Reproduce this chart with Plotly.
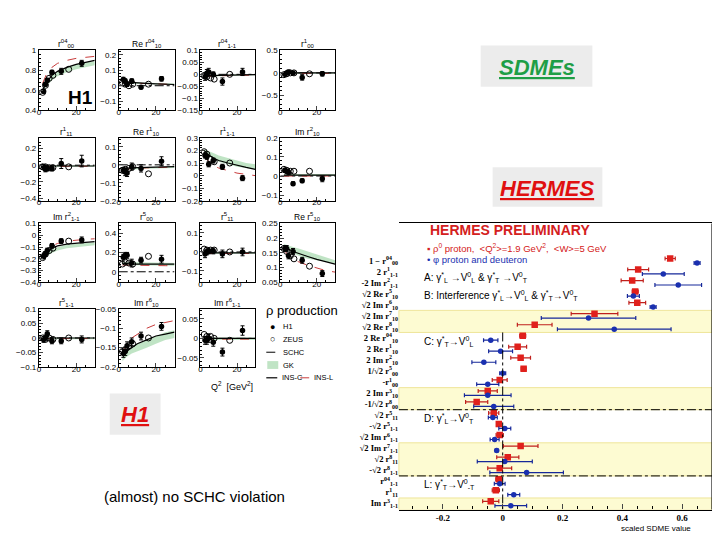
import plotly.graph_objects as go

W, H = 720, 540

# ---------------- H1 / ZEUS data (left block) ----------------
Q2_H1 = [2.5, 3.5, 4.5, 7.0, 12.0, 23.0]
Q2_ZEUS = [2.0, 3.5, 5.5, 7.5, 16.0]
Q2_CURVE = [2, 4, 7, 10, 15, 20, 25, 30]

# r04_00
P1_H1 = [0.59, 0.66, 0.70, 0.78, 0.79, 0.87]
P1_H1E = [0.02, 0.02, 0.02, 0.02, 0.03, 0.03]
P1_ZEUS = [0.58, 0.65, 0.72, 0.75, 0.81]
P1_INSC = [0.60, 0.68, 0.75, 0.79, 0.83, 0.86, 0.88, 0.90]
P1_INSL = [0.67, 0.76, 0.83, 0.87, 0.90, 0.92, 0.93, 0.94]
P1_GKLO = [0.58, 0.64, 0.70, 0.74, 0.78, 0.81, 0.83, 0.85]
P1_GKHI = [0.61, 0.68, 0.75, 0.79, 0.83, 0.86, 0.88, 0.89]
# Re r04_10
P2_H1 = [0.04, 0.03, 0.01, 0.03, -0.01, 0.045]
P2_H1E = [0.015, 0.015, 0.015, 0.015, 0.01, 0.015]
P2_ZEUS = [0.02, 0.01, 0.0, 0.01, 0.01]
P2_INSC = [0.025, 0.023, 0.02, 0.018, 0.015, 0.012, 0.01, 0.008]
P2_INSL = [0.02, 0.02, 0.018, 0.016, 0.014, 0.012, 0.01, 0.008]
P2_GKLO = [0.015, 0.014, 0.012, 0.01, 0.008, 0.006, 0.005, 0.004]
P2_GKHI = [0.025, 0.024, 0.022, 0.02, 0.018, 0.016, 0.015, 0.014]
# r04_1-1
P3_H1 = [-0.01, 0.005, 0.01, 0.0, -0.03, 0.01]
P3_H1E = [0.015, 0.015, 0.015, 0.01, 0.015, 0.015]
P3_ZEUS = [-0.005, -0.01, -0.015, -0.02, 0.0]
P3_INSC = [-0.008, -0.006, -0.005, -0.004, -0.003, -0.002, -0.002, -0.001]
P3_INSL = [-0.01, -0.008, -0.007, -0.006, -0.005, -0.004, -0.003, -0.003]
P3_GKLO = [-0.012, -0.01, -0.009, -0.008, -0.007, -0.006, -0.005, -0.004]
P3_GKHI = [-0.004, -0.003, -0.002, -0.002, -0.001, -0.001, 0.0, 0.0]
# r1_00
P4_H1 = [-0.03, 0.0, 0.02, 0.0, -0.1, -0.02]
P4_H1E = [0.03, 0.03, 0.04, 0.03, 0.06, 0.05]
P4_ZEUS = [-0.04, -0.02, 0.0, 0.0, -0.02]
P4_INSC = [0.0, 0.0, 0.0, 0.0, 0.0, 0.0, 0.0, 0.0]
P4_INSL = [-0.01, -0.01, -0.01, -0.01, -0.01, -0.01, -0.01, -0.01]
P4_GKLO = [-0.02, -0.02, -0.02, -0.02, -0.02, -0.02, -0.02, -0.02]
P4_GKHI = [0.01, 0.01, 0.01, 0.01, 0.01, 0.01, 0.01, 0.01]
# r1_11
P5_H1 = [-0.02, -0.05, -0.04, -0.04, 0.02, 0.05]
P5_H1E = [0.03, 0.03, 0.03, 0.03, 0.06, 0.07]
P5_ZEUS = [-0.02, -0.02, -0.03, -0.03, -0.02]
P5_INSC = [-0.01, -0.01, -0.01, -0.01, -0.01, -0.01, -0.01, -0.01]
P5_INSL = [-0.015, -0.015, -0.015, -0.014, -0.013, -0.012, -0.012, -0.012]
P5_GKLO = [-0.02, -0.02, -0.02, -0.02, -0.02, -0.02, -0.02, -0.02]
P5_GKHI = [0.0, 0.0, 0.0, 0.0, 0.0, 0.0, 0.0, 0.0]
# Re r1_10
P6_H1 = [-0.03, -0.04, -0.045, -0.01, -0.02, 0.02]
P6_H1E = [0.015, 0.02, 0.02, 0.02, 0.02, 0.025]
P6_ZEUS = [-0.03, -0.025, -0.02, -0.01, -0.05]
P6_INSC = [-0.02, -0.02, -0.018, -0.016, -0.014, -0.012, -0.011, -0.01]
P6_INSL = [-0.025, -0.023, -0.021, -0.019, -0.017, -0.015, -0.013, -0.012]
P6_GKLO = [-0.03, -0.028, -0.026, -0.024, -0.022, -0.02, -0.019, -0.018]
P6_GKHI = [-0.02, -0.018, -0.016, -0.014, -0.012, -0.01, -0.009, -0.008]
# r1_1-1
P7_H1 = [0.16, 0.15, 0.09, 0.12, 0.07, -0.02]
P7_H1E = [0.02, 0.02, 0.02, 0.02, 0.02, 0.02]
P7_ZEUS = [0.19, 0.17, 0.13, 0.11, 0.10]
P7_INSC = [0.20, 0.17, 0.14, 0.12, 0.10, 0.08, 0.065, 0.05]
P7_INSL = [0.16, 0.12, 0.08, 0.06, 0.04, 0.02, 0.01, 0.0]
P7_GKLO = [0.18, 0.16, 0.13, 0.11, 0.09, 0.07, 0.06, 0.05]
P7_GKHI = [0.21, 0.20, 0.18, 0.16, 0.14, 0.12, 0.10, 0.09]
# Im r2_10
P8_H1 = [0.03, 0.025, 0.02, -0.04, -0.025, -0.015]
P8_H1E = [0.01, 0.01, 0.01, 0.01, 0.01, 0.015]
P8_ZEUS = [0.035, 0.03, 0.025, 0.025, 0.025]
P8_INSC = [0.005, 0.005, 0.005, 0.005, 0.005, 0.005, 0.005, 0.005]
P8_INSL = [0.0, 0.0, 0.0, 0.0, 0.0, 0.0, 0.0, 0.0]
P8_GKLO = [0.0, 0.0, 0.0, 0.0, 0.0, 0.0, 0.0, 0.0]
P8_GKHI = [0.01, 0.01, 0.01, 0.01, 0.01, 0.01, 0.01, 0.01]
# Im r2_1-1
P9_H1 = [-0.18, -0.16, -0.13, -0.09, -0.05, -0.04]
P9_H1E = [0.02, 0.02, 0.02, 0.02, 0.02, 0.025]
P9_ZEUS = [-0.19, -0.16, -0.13, -0.11, -0.05]
P9_INSC = [-0.20, -0.15, -0.11, -0.09, -0.075, -0.065, -0.06, -0.055]
P9_INSL = [-0.18, -0.13, -0.09, -0.07, -0.05, -0.04, -0.035, -0.03]
P9_GKLO = [-0.21, -0.18, -0.15, -0.13, -0.11, -0.10, -0.09, -0.085]
P9_GKHI = [-0.19, -0.15, -0.12, -0.10, -0.08, -0.07, -0.065, -0.06]
# r5_00
P10_H1 = [0.15, 0.17, 0.17, 0.09, 0.12, 0.13]
P10_H1E = [0.03, 0.03, 0.03, 0.04, 0.03, 0.04]
P10_ZEUS = [0.08, 0.10, 0.09, 0.08, 0.16]
P10_INSC = [0.09, 0.085, 0.08, 0.08, 0.08, 0.08, 0.08, 0.08]
P10_INSL = [0.07, 0.07, 0.068, 0.066, 0.065, 0.064, 0.063, 0.062]
P10_GKLO = [0.07, 0.07, 0.068, 0.066, 0.065, 0.064, 0.063, 0.062]
P10_GKHI = [0.10, 0.10, 0.098, 0.096, 0.095, 0.094, 0.093, 0.092]
# r5_11
P11_H1 = [-0.01, 0.0, 0.005, 0.005, -0.01, 0.0]
P11_H1E = [0.02, 0.015, 0.015, 0.015, 0.02, 0.02]
P11_ZEUS = [0.015, 0.01, 0.01, 0.01, 0.0]
P11_INSC = [-0.005, -0.005, -0.005, -0.005, -0.005, -0.005, -0.005, -0.005]
P11_INSL = [-0.008, -0.008, -0.008, -0.008, -0.008, -0.008, -0.008, -0.008]
P11_GKLO = [-0.01, -0.01, -0.01, -0.01, -0.01, -0.01, -0.01, -0.01]
P11_GKHI = [0.0, 0.0, 0.0, 0.0, 0.0, 0.0, 0.0, 0.0]
# Re r5_10
P12_H1 = [0.165, 0.165, 0.14, 0.155, 0.125, 0.08]
P12_H1E = [0.01, 0.01, 0.01, 0.01, 0.01, 0.01]
P12_ZEUS = [0.165, 0.155, 0.14, 0.13, 0.105]
P12_INSC = [0.175, 0.165, 0.155, 0.148, 0.138, 0.128, 0.12, 0.112]
P12_INSL = [0.16, 0.145, 0.13, 0.12, 0.108, 0.098, 0.09, 0.085]
P12_GKLO = [0.17, 0.16, 0.15, 0.14, 0.13, 0.125, 0.12, 0.115]
P12_GKHI = [0.18, 0.175, 0.17, 0.165, 0.155, 0.145, 0.135, 0.125]
# r5_1-1
P13_H1 = [-0.005, 0.0, 0.015, -0.01, -0.01, -0.005]
P13_H1E = [0.01, 0.01, 0.01, 0.01, 0.01, 0.012]
P13_ZEUS = [0.0, -0.005, 0.0, -0.005, 0.0]
P13_INSC = [0.0, 0.0, 0.0, 0.0, 0.0, 0.0, 0.0, 0.0]
P13_INSL = [-0.002, -0.002, -0.002, -0.002, -0.002, -0.002, -0.002, -0.002]
P13_GKLO = [-0.004, -0.004, -0.004, -0.004, -0.004, -0.004, -0.004, -0.004]
P13_GKHI = [0.002, 0.002, 0.002, 0.002, 0.002, 0.002, 0.002, 0.002]
# Im r6_10
P14_H1 = [-0.165, -0.16, -0.145, -0.135, -0.12, -0.095]
P14_H1E = [0.01, 0.01, 0.01, 0.01, 0.01, 0.01]
P14_ZEUS = [-0.16, -0.155, -0.145, -0.14, -0.125]
P14_INSC = [-0.17, -0.16, -0.15, -0.14, -0.13, -0.12, -0.115, -0.11]
P14_INSL = [-0.165, -0.145, -0.125, -0.115, -0.10, -0.09, -0.085, -0.08]
P14_GKLO = [-0.185, -0.175, -0.165, -0.16, -0.15, -0.14, -0.13, -0.125]
P14_GKHI = [-0.17, -0.16, -0.15, -0.14, -0.13, -0.12, -0.11, -0.105]
# Im r6_1-1
P15_H1 = [-0.005, -0.005, 0.0, -0.01, -0.035, 0.02]
P15_H1E = [0.01, 0.01, 0.01, 0.01, 0.01, 0.012]
P15_ZEUS = [0.01, 0.005, 0.005, 0.0, -0.005]
P15_INSC = [0.0, 0.0, 0.0, 0.0, 0.0, 0.0, 0.0, 0.0]
P15_INSL = [-0.002, -0.002, -0.002, -0.002, -0.002, -0.002, -0.002, -0.002]
P15_GKLO = [-0.004, -0.004, -0.004, -0.004, -0.004, -0.004, -0.004, -0.004]
P15_GKHI = [0.002, 0.002, 0.002, 0.002, 0.002, 0.002, 0.002, 0.002]

PANEL_TITLES = [
    "r<sup>04</sup><sub>00</sub>", "Re r<sup>04</sup><sub>10</sub>", "r<sup>04</sup><sub>1-1</sub>", "r<sup>1</sup><sub>00</sub>",
    "r<sup>1</sup><sub>11</sub>", "Re r<sup>1</sup><sub>10</sub>", "r<sup>1</sup><sub>1-1</sub>", "Im r<sup>2</sup><sub>10</sub>",
    "Im r<sup>2</sup><sub>1-1</sub>", "r<sup>5</sup><sub>00</sub>", "r<sup>5</sup><sub>11</sub>", "Re r<sup>5</sup><sub>10</sub>",
    "r<sup>5</sup><sub>1-1</sub>", "Im r<sup>6</sup><sub>10</sub>", "Im r<sup>6</sup><sub>1-1</sub>",
]
PANEL_YRANGES = [
    [0.4, 1.0], [-0.16, 0.23], [-0.15, 0.1], [-0.83, 0.5],
    [-0.43, 0.33], [-0.2, 0.15], [-0.2, 0.3], [-0.13, 0.2],
    [-0.4, 0.1], [-0.11, 0.5], [-0.16, 0.15], [0.05, 0.25],
    [-0.1, 0.1], [-0.2, -0.05], [-0.073, 0.075],
]
PANEL_DTICK = [0.2, 0.1, 0.05, 0.5, 0.2, 0.1, 0.1, 0.1, 0.1, 0.2, 0.1, 0.05, 0.05, 0.05, 0.05]
PANEL_SCHC_ZERO = [False, True, True, True, True, True, False, True, False, True, True, False, True, False, True]

H1_SETS = [P1_H1, P2_H1, P3_H1, P4_H1, P5_H1, P6_H1, P7_H1, P8_H1, P9_H1, P10_H1, P11_H1, P12_H1, P13_H1, P14_H1, P15_H1]
H1E_SETS = [P1_H1E, P2_H1E, P3_H1E, P4_H1E, P5_H1E, P6_H1E, P7_H1E, P8_H1E, P9_H1E, P10_H1E, P11_H1E, P12_H1E, P13_H1E, P14_H1E, P15_H1E]
ZEUS_SETS = [P1_ZEUS, P2_ZEUS, P3_ZEUS, P4_ZEUS, P5_ZEUS, P6_ZEUS, P7_ZEUS, P8_ZEUS, P9_ZEUS, P10_ZEUS, P11_ZEUS, P12_ZEUS, P13_ZEUS, P14_ZEUS, P15_ZEUS]
INSC_SETS = [P1_INSC, P2_INSC, P3_INSC, P4_INSC, P5_INSC, P6_INSC, P7_INSC, P8_INSC, P9_INSC, P10_INSC, P11_INSC, P12_INSC, P13_INSC, P14_INSC, P15_INSC]
INSL_SETS = [P1_INSL, P2_INSL, P3_INSL, P4_INSL, P5_INSL, P6_INSL, P7_INSL, P8_INSL, P9_INSL, P10_INSL, P11_INSL, P12_INSL, P13_INSL, P14_INSL, P15_INSL]
GKLO_SETS = [P1_GKLO, P2_GKLO, P3_GKLO, P4_GKLO, P5_GKLO, P6_GKLO, P7_GKLO, P8_GKLO, P9_GKLO, P10_GKLO, P11_GKLO, P12_GKLO, P13_GKLO, P14_GKLO, P15_GKLO]
GKHI_SETS = [P1_GKHI, P2_GKHI, P3_GKHI, P4_GKHI, P5_GKHI, P6_GKHI, P7_GKHI, P8_GKHI, P9_GKHI, P10_GKHI, P11_GKHI, P12_GKHI, P13_GKHI, P14_GKHI, P15_GKHI]

# ---------------- HERMES data (right block) ----------------
HERMES_LABELS = [
    "1 − r<sup>04</sup><sub>00</sub>", "2 r<sup>1</sup><sub>1-1</sub>", "-2 Im r<sup>2</sup><sub>1-1</sub>",
    "√2 Re r<sup>5</sup><sub>10</sub>", "√2 Im r<sup>6</sup><sub>10</sub>", "√2 Im r<sup>7</sup><sub>10</sub>",
    "√2 Re r<sup>8</sup><sub>10</sub>", "2 Re r<sup>04</sup><sub>10</sub>", "2 Re r<sup>1</sup><sub>10</sub>",
    "2 Im r<sup>2</sup><sub>10</sub>", "1/√2 r<sup>5</sup><sub>00</sub>", "-r<sup>1</sup><sub>00</sub>",
    "2 Im r<sup>3</sup><sub>10</sub>", "-1/√2 r<sup>8</sup><sub>00</sub>", "√2 r<sup>5</sup><sub>11</sub>",
    "-√2 r<sup>5</sup><sub>1-1</sub>", "√2 Im r<sup>6</sup><sub>1-1</sub>", "√2 Im r<sup>7</sup><sub>1-1</sub>",
    "√2 r<sup>8</sup><sub>11</sub>", "-√2 r<sup>8</sup><sub>1-1</sub>", "r<sup>04</sup><sub>1-1</sub>",
    "r<sup>1</sup><sub>11</sub>", "Im r<sup>3</sup><sub>1-1</sub>",
]
RHO_VAL = [0.56, 0.453, 0.433, 0.443, 0.45, 0.307, 0.107, 0.067, 0.05, 0.06, 0.07, -0.01,
           -0.05, -0.087, -0.03, -0.013, -0.01, 0.06, 0.017, -0.01, -0.013, -0.023, -0.04]
RHO_ERR = [0.017, 0.035, 0.037, 0.01, 0.028, 0.078, 0.058, 0.01, 0.03, 0.033, 0.008, 0.025,
           0.032, 0.037, 0.017, 0.006, 0.012, 0.058, 0.037, 0.04, 0.01, 0.012, 0.027]
PHI_VAL = [0.65, 0.537, 0.587, 0.437, 0.503, 0.287, 0.373, -0.04, -0.007, -0.063, 0.0, -0.05,
           -0.05, -0.03, -0.033, 0.007, -0.027, -0.02, 0.007, 0.08, -0.01, 0.037, 0.027]
PHI_ERR = [0.01, 0.07, 0.078, 0.02, 0.01, 0.158, 0.19, 0.024, 0.04, 0.04, 0.01, 0.037,
           0.078, 0.067, 0.015, 0.02, 0.015, 0.005, 0.092, 0.123, 0.018, 0.02, 0.053]
YELLOW_BANDS = [(5.5, 7.5), (12.5, 14.5), (17.5, 20.5), (22.5, 23.55)]
CLASS_SEPARATORS = [14.5, 20.5]

# ---------------- geometry helpers (page shows the figure 8 px in from the corner) ----------------
OFF = 8

def fx(px):
    return (px - OFF) / W

def fy(py):
    return 1 - (py - OFF) / H

COL_X = [(37, 93), (117, 173), (199, 254), (279, 334)]
ROW_Y = [(47, 108), (136, 200), (223, 283), (310, 369)]

SANS = "Liberation Sans"
SERIF = "Liberation Serif"
GREEN_FILL = "rgba(140,205,150,0.55)"
RED_L = "#c83c3c"

fig = go.Figure()
layout = dict(width=W, height=H, margin=dict(l=0, r=0, t=0, b=0), autosize=False,
              paper_bgcolor="white", plot_bgcolor="white", showlegend=False)
annotations = []
shapes = []

for k in range(15):
    r, c = divmod(k, 4)
    ax = "" if k == 0 else str(k + 1)
    xa, ya = "x" + ax, "y" + ax
    x0, x1 = COL_X[c]
    y0, y1 = ROW_Y[r]
    dt = PANEL_DTICK[k]
    layout["xaxis" + ax] = dict(
        domain=[fx(x0), fx(x1)], anchor=ya, range=[0, 30], tickmode="array", tickvals=[0, 20],
        ticks="inside", ticklen=4, showline=True, mirror=True, linecolor="black", linewidth=1,
        showgrid=False, zeroline=False, tickfont=dict(family=SANS, size=8, color="black"),
        ticklabelstandoff=-6,
        minor=dict(ticks="inside", dtick=5, ticklen=2, tickcolor="black"),
    )
    layout["yaxis" + ax] = dict(
        domain=[fy(y1), fy(y0)], anchor=xa, range=PANEL_YRANGES[k], tickmode="linear", tick0=0,
        dtick=dt, ticks="inside", ticklen=4, showline=True, mirror=True, linecolor="black",
        linewidth=1, showgrid=False, zeroline=False, tickfont=dict(family=SANS, size=8, color="black"),
        minor=dict(ticks="inside", dtick=dt / 5, ticklen=2, tickcolor="black"),
    )
    fig.add_trace(go.Scatter(x=Q2_CURVE, y=GKLO_SETS[k], mode="lines", line=dict(width=0),
                             xaxis=xa, yaxis=ya, hoverinfo="skip"))
    fig.add_trace(go.Scatter(x=Q2_CURVE, y=GKHI_SETS[k], mode="lines", line=dict(width=0),
                             fill="tonexty", fillcolor=GREEN_FILL, xaxis=xa, yaxis=ya, hoverinfo="skip"))
    if PANEL_SCHC_ZERO[k]:
        fig.add_trace(go.Scatter(x=[0, 30], y=[0, 0], mode="lines",
                                 line=dict(color="black", width=1, dash="dashdot"), xaxis=xa, yaxis=ya))
    fig.add_trace(go.Scatter(x=Q2_CURVE, y=INSL_SETS[k], mode="lines",
                             line=dict(color=RED_L, width=1, dash="dash"), xaxis=xa, yaxis=ya))
    fig.add_trace(go.Scatter(x=Q2_CURVE, y=INSC_SETS[k], mode="lines",
                             line=dict(color="black", width=1.2), xaxis=xa, yaxis=ya))
    fig.add_trace(go.Scatter(x=Q2_ZEUS, y=ZEUS_SETS[k], mode="markers",
                             marker=dict(symbol="circle-open", size=6, color="black", line=dict(width=1)),
                             xaxis=xa, yaxis=ya))
    fig.add_trace(go.Scatter(x=Q2_H1, y=H1_SETS[k], mode="markers",
                             marker=dict(symbol="circle", size=5.5, color="black"),
                             error_y=dict(type="data", array=H1E_SETS[k], thickness=1, width=2, color="black"),
                             xaxis=xa, yaxis=ya))
    annotations.append(dict(text=PANEL_TITLES[k], xref="paper", yref="paper", x=fx((x0 + x1) / 2),
                            y=fy(y0 + 1), xanchor="center", yanchor="bottom", showarrow=False,
                            font=dict(family=SANS, size=8.5, color="black")))

annotations.append(dict(text="<b>H1</b>", xref="x", yref="y", x=22.5, y=0.53, showarrow=False,
                        font=dict(family=SANS, size=19, color="black")))
annotations.append(dict(text="Q<sup>2</sup>  [GeV<sup>2</sup>]", xref="paper", yref="paper", x=fx(254),
                        y=fy(388), xanchor="right", yanchor="middle", showarrow=False,
                        font=dict(family=SANS, size=9, color="black")))

# H1 legend
annotations.append(dict(text="ρ production", xref="paper", yref="paper", x=fx(263), y=fy(312),
                        xanchor="left", yanchor="middle", showarrow=False,
                        font=dict(family=SANS, size=13, color="black")))
for txt, py in [("●", 328), ("○", 341)]:
    annotations.append(dict(text=txt, xref="paper", yref="paper", x=fx(271), y=fy(py), xanchor="center",
                            yanchor="middle", showarrow=False, font=dict(family=SANS, size=9, color="black")))
for txt, px_, py in [("H1", 280, 328), ("ZEUS", 280, 341), ("SCHC", 280, 354), ("GK", 280, 367),
                     ("INS-C", 279, 380), ("INS-L", 311, 380)]:
    annotations.append(dict(text=txt, xref="paper", yref="paper", x=fx(px_), y=fy(py), xanchor="left",
                            yanchor="middle", showarrow=False, font=dict(family=SANS, size=7.5, color="black")))
shapes.append(dict(type="line", xref="paper", yref="paper", x0=fx(265), x1=fx(277), y0=fy(354), y1=fy(354),
                   line=dict(color="black", width=1, dash="dashdot")))
shapes.append(dict(type="rect", xref="paper", yref="paper", x0=fx(266), x1=fx(277), y0=fy(371), y1=fy(363),
                   fillcolor=GREEN_FILL, line=dict(width=0)))
shapes.append(dict(type="line", xref="paper", yref="paper", x0=fx(265), x1=fx(276), y0=fy(380), y1=fy(380),
                   line=dict(color="black", width=1.2)))
shapes.append(dict(type="line", xref="paper", yref="paper", x0=fx(299), x1=fx(309), y0=fy(380), y1=fy(380),
                   line=dict(color=RED_L, width=1, dash="dash")))

# ---------------- HERMES panel ----------------
rows = list(range(1, len(HERMES_LABELS) + 1))
layout["xaxis16"] = dict(
    domain=[fx(398), fx(712)], anchor="y16", range=[-0.347, 0.70], tickmode="array",
    tickvals=[-0.2, 0, 0.2, 0.4, 0.6], ticktext=["<b>-0.2</b>", "<b>0</b>", "<b>0.2</b>", "<b>0.4</b>", "<b>0.6</b>"],
    ticks="inside", ticklen=5, showline=True, mirror=True, linecolor="black", linewidth=1.2,
    showgrid=False, zeroline=False, tickfont=dict(family=SERIF, size=9, color="black"),
    minor=dict(ticks="inside", dtick=0.05, ticklen=3, tickcolor="black"),
)
layout["yaxis16"] = dict(
    domain=[fy(514), fy(223)], anchor="x16", range=[23.55, -2.38], tickmode="array", tickvals=rows,
    ticktext=["<b>" + t + "</b>" for t in HERMES_LABELS], ticks="", showline=False, showgrid=False,
    zeroline=False, tickfont=dict(family=SERIF, size=8.5, color="black"),
)
for b0, b1 in YELLOW_BANDS:
    shapes.append(dict(type="rect", xref="x16 domain", yref="y16", x0=0, x1=1, y0=b0, y1=b1,
                       fillcolor="#fdfbd2", line=dict(color="#efe59a", width=1), layer="below"))
for yl in CLASS_SEPARATORS:
    shapes.append(dict(type="line", xref="x16 domain", yref="y16", x0=0, x1=1, y0=yl, y1=yl,
                       line=dict(color="black", width=1, dash="dashdot")))
shapes.append(dict(type="line", xref="x16", yref="y16", x0=0, x1=0, y0=7.5, y1=23.55,
                   line=dict(color="black", width=1, dash="dashdot")))
shapes.append(dict(type="line", xref="x16 domain", yref="y16 domain", x0=1, x1=1, y0=0, y1=1,
                   line=dict(color="black", width=1.2)))

fig.add_trace(go.Scatter(x=RHO_VAL, y=[r - 0.2 for r in rows], mode="markers",
                         marker=dict(symbol="square", size=6.5, color="#e0201c"),
                         error_x=dict(type="data", array=RHO_ERR, thickness=1.2, width=2, color="#c0201c"),
                         xaxis="x16", yaxis="y16"))
fig.add_trace(go.Scatter(x=PHI_VAL, y=[r + 0.2 for r in rows], mode="markers",
                         marker=dict(symbol="circle", size=5.5, color="#1a30b0"),
                         error_x=dict(type="data", array=PHI_ERR, thickness=1.2, width=2, color="#16289a"),
                         xaxis="x16", yaxis="y16"))

annotations.append(dict(text="<b>HERMES PRELIMINARY</b>", xref="paper", yref="paper", x=fx(427), y=fy(230),
                        xanchor="left", yanchor="middle", showarrow=False,
                        font=dict(family=SANS, size=14, color="#d42020")))
annotations.append(dict(text="▪ ρ<sup>0</sup> proton,  &lt;Q<sup>2</sup>&gt;=1.9 GeV<sup>2</sup>,  &lt;W&gt;=5 GeV",
                        xref="paper", yref="paper", x=fx(424), y=fy(248), xanchor="left", yanchor="middle",
                        showarrow=False, font=dict(family=SANS, size=9.5, color="#d42020")))
annotations.append(dict(text="• φ proton and deuteron", xref="paper", yref="paper", x=fx(424), y=fy(260),
                        xanchor="left", yanchor="middle", showarrow=False,
                        font=dict(family=SANS, size=9.5, color="#1a30b0")))
CLASS_TEXT = [
    ("A: γ<sup>*</sup><sub>L</sub> →V<sup>0</sup><sub>L</sub> &amp; γ<sup>*</sup><sub>T</sub> →V<sup>0</sup><sub>T</sub>", 278),
    ("B: Interference γ<sup>*</sup><sub>L</sub>→V<sup>0</sup><sub>L</sub> &amp; γ<sup>*</sup><sub>T</sub>→V<sup>0</sup><sub>T</sub>", 296),
    ("C: γ<sup>*</sup><sub>T</sub>→V<sup>0</sup><sub>L</sub>", 343),
    ("D: γ<sup>*</sup><sub>L</sub>→V<sup>0</sup><sub>T</sub>", 421),
    ("L: γ<sup>*</sup><sub>T</sub>→V<sup>0</sup><sub>-T</sub>", 488),
]
for txt, py in CLASS_TEXT:
    annotations.append(dict(text=txt, xref="paper", yref="paper", x=fx(421), y=fy(py), xanchor="left",
                            yanchor="middle", showarrow=False, font=dict(family=SANS, size=10, color="black")))
annotations.append(dict(text="scaled SDME value", xref="paper", yref="paper", x=fx(656), y=fy(533),
                        xanchor="center", yanchor="middle", showarrow=False,
                        font=dict(family=SANS, size=8, color="black")))

# ---------------- slide text boxes ----------------
for (bx0, by0, bx1, by1, txt, col, cx, cy) in [
    (480, 42, 592, 84, "SDMEs", "#1e9e46", 536, 64),
    (492, 166, 602, 206, "HERMES", "#e01010", 546, 187),
    (108, 396, 159, 438, "H1", "#e01010", 133, 417),
]:
    shapes.append(dict(type="rect", xref="paper", yref="paper", x0=fx(bx0), x1=fx(bx1), y0=fy(by1), y1=fy(by0),
                       fillcolor="#ececec", line=dict(width=0), layer="below"))
    annotations.append(dict(text="<b><i><u>" + txt + "</u></i></b>", xref="paper", yref="paper", x=fx(cx),
                            y=fy(cy), xanchor="center", yanchor="middle", showarrow=False,
                            font=dict(family=SANS, size=22, color=col)))
annotations.append(dict(text="(almost) no SCHC violation", xref="paper", yref="paper", x=fx(193), y=fy(501),
                        xanchor="center", yanchor="middle", showarrow=False,
                        font=dict(family=SANS, size=15, color="black")))

layout["annotations"] = annotations
layout["shapes"] = shapes
fig.update_layout(**layout)
fig.write_html("out.html")
